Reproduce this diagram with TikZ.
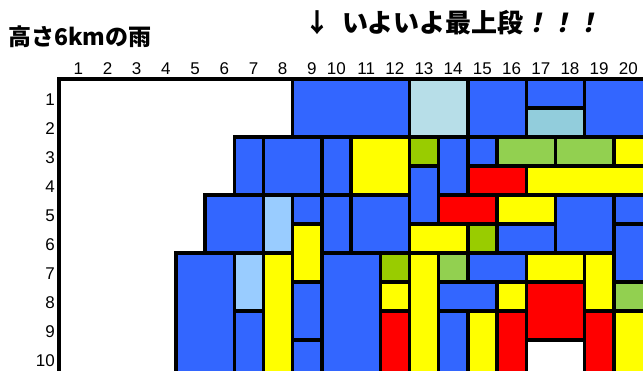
\documentclass[tikz,border=0pt]{standalone}
\usepackage{fontspec}
\setmainfont{Liberation Sans}
\newfontfamily\jpfont{Noto Sans CJK JP}
\usepackage{tikz}

\definecolor{tblue}{HTML}{3366FF}
\definecolor{tpale}{HTML}{B7DEE8}
\definecolor{tteal}{HTML}{92CDDC}
\definecolor{tsky}{HTML}{99CCFF}
\definecolor{tyellow}{HTML}{FFFF00}
\definecolor{tred}{HTML}{FF0000}
\definecolor{tolive}{HTML}{99CC00}
\definecolor{tgreen}{HTML}{92D050}

\begin{document}
\begin{tikzpicture}[
    x=29.2pt, y=-29pt,
    tile/.style={draw=black, line width=3.4pt},
    frame/.style={draw=black, line width=3.6pt},
    collab/.style={anchor=base east, inner sep=0pt, font=\fontsize{17}{17}\selectfont},
    rowlab/.style={anchor=base east, inner sep=0pt, font=\fontsize{17}{17}\selectfont},
    head/.style={anchor=base west, inner sep=0pt, font=\jpfont\bfseries}
]
\useasboundingbox (-59pt,79pt) rectangle (584pt,-292pt);
\clip (-59pt,79pt) rectangle (584pt,-292pt);

% x0/y0/x1/y1/colour of each tile
\def\tiles{8/0/12/2/tblue, 12/0/14/2/tpale, 14/0/16/2/tblue, 16/0/18/1/tblue,
  16/1/18/2/tteal, 18/0/21/2/tblue,
  6/2/7/4/tblue, 7/2/9/4/tblue, 9/2/10/4/tblue, 10/2/12/4/tyellow,
  12/2/13/3/tolive, 12/3/13/5/tblue, 13/2/14/4/tblue, 14/2/15/3/tblue,
  15/2/17/3/tgreen, 17/2/19/3/tgreen, 19/2/21/3/tyellow, 14/3/16/4/tred,
  16/3/21/4/tyellow,
  5/4/7/6/tblue, 7/4/8/6/tsky, 8/4/9/5/tblue, 8/5/9/7/tyellow,
  9/4/10/6/tblue, 10/4/12/6/tblue, 12/5/14/6/tyellow, 13/4/15/5/tred,
  14/5/15/6/tolive, 15/4/17/5/tyellow, 15/5/17/6/tblue, 17/4/19/6/tblue,
  19/4/21/5/tblue, 19/5/21/7/tblue,
  4/6/6/11/tblue, 6/6/7/8/tsky, 6/8/7/11/tblue, 7/6/8/11/tyellow,
  8/7/9/9/tblue, 8/9/9/11/tblue, 9/6/11/11/tblue, 11/6/12/7/tolive,
  11/7/12/8/tyellow, 11/8/12/11/tred, 12/6/13/11/tyellow, 13/6/14/7/tgreen,
  14/6/16/7/tblue, 13/7/15/8/tblue, 13/8/14/11/tblue, 14/8/15/11/tyellow,
  15/7/16/8/tyellow, 15/8/16/11/tred, 16/6/18/7/tyellow, 16/7/18/9/tred,
  16/9/18/11/white, 18/6/19/8/tyellow, 18/8/19/11/tred, 19/7/21/8/tgreen,
  19/8/21/11/tyellow}

\foreach \xa/\ya/\xb/\yb/\col in \tiles
  \fill[\col] (\xa,\ya) rectangle (\xb,\yb);
\foreach \xa/\ya/\xb/\yb/\col in \tiles
  \draw[tile] (\xa,\ya) rectangle (\xb,\yb);
\draw[frame] (0,11) -- (0,0) -- (21,0);

\foreach \c in {1,...,20}
  \node[collab] (c\c) at (\c-0.17,-0.14) {\c};
\foreach \r in {1,...,10}
  \node[rowlab] (r\r) at (-0.14,\r-0.1) {\r};

\node[head, font=\jpfont\bfseries\fontsize{23}{23}\selectfont] (title) at (-51pt,33pt) {高さ6kmの雨};
\node[head, font=\jpfont\bfseries\fontsize{26}{26}\selectfont] (note) at (245pt,46pt)
  {↓\ \ いよいよ最上段{\addfontfeature{FakeSlant=0.2}！！！}};
\end{tikzpicture}
\end{document}
